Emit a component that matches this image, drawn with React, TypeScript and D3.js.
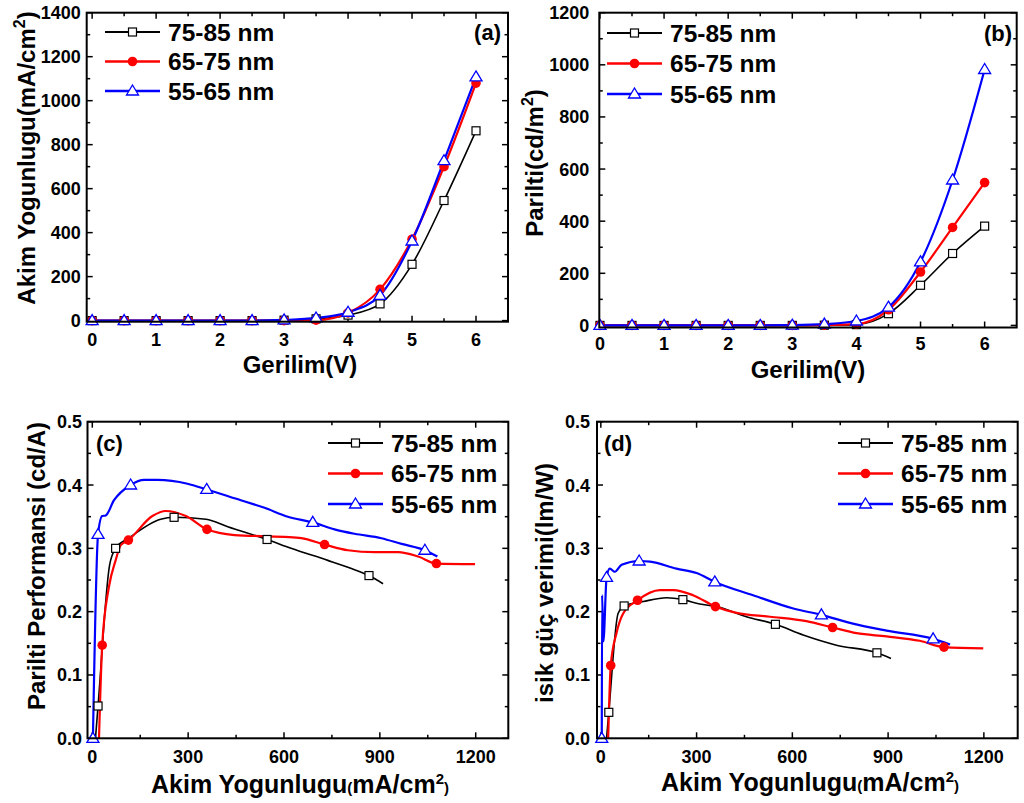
import React from 'react';
import * as d3 from 'd3';

const FONT = '"Liberation Sans", Arial, Helvetica, sans-serif';

// ---------- DATA ----------
const seriesNames = ['75-85 nm', '65-75 nm', '55-65 nm'];
const seriesColors = ['#000000', '#ff0000', '#0000ff'];

const voltages = [0, 0.5, 1, 1.5, 2, 2.5, 3, 3.5, 4, 4.5, 5, 5.5, 6];

// (a) current density vs voltage
const aBlack = [0, 0, 0, 0, 0, 0, 2, 8, 25, 76, 256, 546, 863];
const aRed = [0, 0, 0, 0, 0, 0, 0, 2, 35, 142, 370, 700, 1080];
const aBlue = [0, 0, 0, 0, 0, 0, 3, 12, 38, 115, 362, 727, 1108];

// (b) luminance vs voltage
const bBlack = [0, 0, 0, 0, 0, 0, 0, 1, 3, 45, 154, 276, 381];
const bRed = [0, 0, 0, 0, 0, 0, 0, 1, 5, 60, 205, 376, 548];
const bBlue = [0, 0, 0, 0, 0, 0, 1, 5, 17, 70, 244, 558, 982];

// (c) current efficiency vs current density
const cBlackJ = [10, 18, 54, 73, 114, 214, 256, 356, 424, 547, 622, 737, 811, 866, 910];
const cBlackE = [0, 0.051, 0.273, 0.3, 0.316, 0.346, 0.349, 0.346, 0.334, 0.314, 0.3, 0.281, 0.268, 0.257, 0.244];
const cBlackMarks = [1, 3, 6, 9, 13];

const cRedJ = [21, 31, 52, 73, 89, 113, 188, 230, 293, 359, 445, 601, 654, 727, 800, 884, 957, 1020, 1077, 1198];
const cRedE = [0, 0.147, 0.239, 0.281, 0.305, 0.313, 0.351, 0.359, 0.351, 0.33, 0.321, 0.318, 0.316, 0.306, 0.297, 0.294, 0.294, 0.287, 0.276, 0.275];
const cRedMarks = [1, 5, 9, 13, 18];

const cBlueJ = [2, 18, 31, 42, 68, 120, 162, 204, 298, 358, 445, 539, 612, 690, 758, 821, 905, 968, 1041, 1080];
const cBlueE = [0, 0.322, 0.351, 0.352, 0.376, 0.4, 0.408, 0.408, 0.402, 0.393, 0.379, 0.364, 0.35, 0.341, 0.33, 0.323, 0.316, 0.307, 0.297, 0.287];
const cBlueMarks = [0, 1, 5, 9, 13, 18];

// (d) power efficiency vs current density
const dBlackJ = [18, 25, 54, 73, 133, 206, 257, 310, 362, 456, 547, 634, 738, 865, 909];
const dBlackP = [0, 0.041, 0.197, 0.209, 0.216, 0.222, 0.219, 0.212, 0.208, 0.192, 0.18, 0.163, 0.147, 0.135, 0.126];
const dBlackMarks = [1, 3, 6, 10, 13];

const dRedJ = [23, 31, 49, 70, 115, 185, 227, 289, 359, 425, 530, 644, 726, 801, 895, 999, 1075, 1198];
const dRedP = [0, 0.115, 0.166, 0.197, 0.218, 0.234, 0.234, 0.226, 0.208, 0.198, 0.192, 0.185, 0.175, 0.166, 0.161, 0.154, 0.144, 0.142];
const dRedMarks = [1, 4, 8, 12, 16];

const dBlueJ = [3, 4, 8, 18, 28, 44, 65, 120, 154, 237, 300, 357, 477, 603, 691, 790, 895, 1041, 1094];
const dBlueP = [0, 0.226, 0.153, 0.254, 0.268, 0.263, 0.274, 0.28, 0.279, 0.268, 0.261, 0.247, 0.226, 0.205, 0.195, 0.181, 0.17, 0.157, 0.148];
const dBlueMarks = [0, 3, 7, 11, 14, 17];

const vTicks = [0, 1, 2, 3, 4, 5, 6];
const vMinor = [0.5, 1.5, 2.5, 3.5, 4.5, 5.5];
const aTicks = [0, 200, 400, 600, 800, 1000, 1200, 1400];
const aMinor = [100, 300, 500, 700, 900, 1100, 1300];
const bTicks = [0, 200, 400, 600, 800, 1000, 1200];
const bMinor = [100, 300, 500, 700, 900, 1100];
const jTicks = [0, 300, 600, 900, 1200];
const jMinor = [150, 450, 750, 1050];
const effTicks = [0, 0.1, 0.2, 0.3, 0.4, 0.5];
const effMinor = [0.05, 0.15, 0.25, 0.35, 0.45];

type Series = { xs: number[]; ys: number[]; marks: number[] };

const zip = (xs: number[], ys: number[]) => xs.map((x, i) => [x, ys[i]] as [number, number]);

function Marker({ kind, x, y }: { kind: number; x: number; y: number }) {
  if (kind === 0)
    return <rect x={x - 4} y={y - 4} width={8} height={8} fill="#fff" stroke="#000" strokeWidth={1.2} />;
  if (kind === 1) return <circle cx={x} cy={y} r={4.8} fill="#ff0000" />;
  return (
    <path
      d={`M${x},${y - 6}L${x + 6},${y + 4}L${x - 6},${y + 4}Z`}
      fill="#fff"
      stroke="#0000ff"
      strokeWidth={1.3}
    />
  );
}

type PanelProps = {
  frame: { l: number; r: number; t: number; b: number };
  xDomain: [number, number];
  yDomain: [number, number];
  xMajor: number[];
  xMinor: number[];
  yMajor: number[];
  yMinor: number[];
  yFmt: (v: number) => string;
  series: Series[];
  yLabelGap: number;
  xLabelGap: number;
  legend: { x: number; y0: number; dy: number };
  tag: string;
  tagPos: [number, number];
  tagAnchor: string;
  xTitle: React.ReactNode;
  xTitlePos: [number, number];
  xTitleSize: number;
  yTitle: React.ReactNode;
  yTitlePos: [number, number];
};

function Panel(p: PanelProps) {
  const { frame } = p;
  const x = d3.scaleLinear().domain(p.xDomain).range([frame.l, frame.r]);
  const y = d3.scaleLinear().domain(p.yDomain).range([frame.b, frame.t]);
  const line = d3
    .line<[number, number]>()
    .x((d) => x(d[0]))
    .y((d) => y(d[1]))
    .curve(d3.curveMonotoneX);
  const widths = [1.6, 2.2, 2.2];
  const MAJ = 6;
  const MIN = 3.5;
  return (
    <g>
      {/* ticks */}
      {p.xMajor.map((v) => (
        <g key={'xm' + v}>
          <line x1={x(v)} x2={x(v)} y1={frame.b} y2={frame.b - MAJ} stroke="#000" strokeWidth={1.5} />
          <line x1={x(v)} x2={x(v)} y1={frame.t} y2={frame.t + MAJ} stroke="#000" strokeWidth={1.5} />
          <text
            x={x(v)}
            y={frame.b + p.xLabelGap}
            textAnchor="middle"
            fontFamily={FONT}
            fontWeight="bold"
            fontSize={18}
          >
            {v}
          </text>
        </g>
      ))}
      {p.xMinor.map((v) => (
        <g key={'xn' + v}>
          <line x1={x(v)} x2={x(v)} y1={frame.b} y2={frame.b - MIN} stroke="#000" strokeWidth={1.5} />
          <line x1={x(v)} x2={x(v)} y1={frame.t} y2={frame.t + MIN} stroke="#000" strokeWidth={1.5} />
        </g>
      ))}
      {p.yMajor.map((v) => (
        <g key={'ym' + v}>
          <line x1={frame.l} x2={frame.l + MAJ} y1={y(v)} y2={y(v)} stroke="#000" strokeWidth={1.5} />
          <line x1={frame.r} x2={frame.r - MAJ} y1={y(v)} y2={y(v)} stroke="#000" strokeWidth={1.5} />
          <text
            x={frame.l - p.yLabelGap}
            y={y(v) + 6.5}
            textAnchor="end"
            fontFamily={FONT}
            fontWeight="bold"
            fontSize={18}
          >
            {p.yFmt(v)}
          </text>
        </g>
      ))}
      {p.yMinor.map((v) => (
        <g key={'yn' + v}>
          <line x1={frame.l} x2={frame.l + MIN} y1={y(v)} y2={y(v)} stroke="#000" strokeWidth={1.5} />
          <line x1={frame.r} x2={frame.r - MIN} y1={y(v)} y2={y(v)} stroke="#000" strokeWidth={1.5} />
        </g>
      ))}
      {/* series */}
      {p.series.map((s, i) => (
        <path
          key={'l' + i}
          d={line(zip(s.xs, s.ys)) || ''}
          fill="none"
          stroke={seriesColors[i]}
          strokeWidth={widths[i]}
          strokeLinejoin="round"
        />
      ))}
      {p.series.map((s, i) => (
        <g key={'m' + i}>
          {s.marks.map((k) => (
            <Marker key={k} kind={i} x={x(s.xs[k])} y={y(s.ys[k])} />
          ))}
        </g>
      ))}
      {/* frame */}
      <rect
        x={frame.l}
        y={frame.t}
        width={frame.r - frame.l}
        height={frame.b - frame.t}
        fill="none"
        stroke="#000"
        strokeWidth={2}
      />
      {/* legend */}
      {seriesNames.map((n, i) => {
        const ly = p.legend.y0 + i * p.legend.dy;
        return (
          <g key={'lg' + i}>
            <line
              x1={p.legend.x}
              x2={p.legend.x + 55}
              y1={ly}
              y2={ly}
              stroke={seriesColors[i]}
              strokeWidth={widths[i] + 0.4}
            />
            <Marker kind={i} x={p.legend.x + 27.5} y={ly} />
            <text
              x={p.legend.x + 63}
              y={ly + 8.5}
              fontFamily={FONT}
              fontWeight="bold"
              fontSize={24.5}
            >
              {n}
            </text>
          </g>
        );
      })}
      <text
        x={p.tagPos[0]}
        y={p.tagPos[1]}
        textAnchor={p.tagAnchor as any}
        fontFamily={FONT}
        fontWeight="bold"
        fontSize={22}
      >
        {p.tag}
      </text>
      <text
        x={p.xTitlePos[0]}
        y={p.xTitlePos[1]}
        textAnchor="middle"
        fontFamily={FONT}
        fontWeight="bold"
        fontSize={p.xTitleSize}
      >
        {p.xTitle}
      </text>
      <text
        transform={`translate(${p.yTitlePos[0]},${p.yTitlePos[1]}) rotate(-90)`}
        textAnchor="middle"
        fontFamily={FONT}
        fontWeight="bold"
        fontSize={24}
      >
        {p.yTitle}
      </text>
    </g>
  );
}

const intFmt = (v: number) => String(v);
const effFmt = d3.format('.1f');

const jTitle = (
  <>
    <tspan>Akim Yogunlugu</tspan>
    <tspan fontSize={15}>(</tspan>
    <tspan>mA/cm</tspan>
    <tspan fontSize={15} dy={-9}>2</tspan>
    <tspan fontSize={15} dy={9}>)</tspan>
  </>
);

export default function App() {
  return (
    <svg
      width={1024}
      height={803}
      style={{ position: 'absolute', left: 0, top: 0, background: '#fff' }}
    >
      <rect width={1024} height={803} fill="#fff" />
      <Panel
        frame={{ l: 86.7, r: 508, t: 12.7, b: 321.7 }}
        xDomain={[-0.085, 6.5]}
        yDomain={[-5, 1400]}
        xMajor={vTicks}
        xMinor={vMinor}
        yMajor={aTicks}
        yMinor={aMinor}
        yFmt={intFmt}
        series={[
          { xs: voltages, ys: aBlack, marks: voltages.map((_, i) => i) },
          { xs: voltages, ys: aRed, marks: voltages.map((_, i) => i) },
          { xs: voltages, ys: aBlue, marks: voltages.map((_, i) => i) },
        ]}
        yLabelGap={6}
        xLabelGap={24}
        legend={{ x: 105, y0: 32, dy: 29.5 }}
        tag="(a)"
        tagPos={[501, 40]}
        tagAnchor="end"
        xTitle="Gerilim(V)"
        xTitlePos={[300, 373]}
        xTitleSize={24}
        yTitle={
          <>
            <tspan>Akim Yogunlugu(mA/cm</tspan>
            <tspan fontSize={16} dy={-10}>2</tspan>
            <tspan dy={10}>)</tspan>
          </>
        }
        yTitlePos={[35, 158]}
      />
      <Panel
        frame={{ l: 599.3, r: 1016.7, t: 12.7, b: 327.5 }}
        xDomain={[-0.01, 6.5]}
        yDomain={[-8, 1200]}
        xMajor={vTicks}
        xMinor={vMinor}
        yMajor={bTicks}
        yMinor={bMinor}
        yFmt={intFmt}
        series={[
          { xs: voltages, ys: bBlack, marks: voltages.map((_, i) => i) },
          { xs: voltages, ys: bRed, marks: voltages.map((_, i) => i) },
          { xs: voltages, ys: bBlue, marks: voltages.map((_, i) => i) },
        ]}
        yLabelGap={10}
        xLabelGap={22}
        legend={{ x: 607, y0: 33, dy: 30.5 }}
        tag="(b)"
        tagPos={[1012, 41]}
        tagAnchor="end"
        xTitle="Gerilim(V)"
        xTitlePos={[808, 378]}
        xTitleSize={24}
        yTitle={
          <>
            <tspan>Parilti(cd/m</tspan>
            <tspan fontSize={16} dy={-10}>2</tspan>
            <tspan dy={10}>)</tspan>
          </>
        }
        yTitlePos={[543, 163]}
      />
      <Panel
        frame={{ l: 87.5, r: 508.3, t: 421.7, b: 738.3 }}
        xDomain={[-15, 1302]}
        yDomain={[0, 0.5]}
        xMajor={jTicks}
        xMinor={jMinor}
        yMajor={effTicks}
        yMinor={effMinor}
        yFmt={effFmt}
        series={[
          { xs: cBlackJ, ys: cBlackE, marks: cBlackMarks },
          { xs: cRedJ, ys: cRedE, marks: cRedMarks },
          { xs: cBlueJ, ys: cBlueE, marks: cBlueMarks },
        ]}
        yLabelGap={5.5}
        xLabelGap={25}
        legend={{ x: 328, y0: 443, dy: 30.5 }}
        tag="(c)"
        tagPos={[96, 451]}
        tagAnchor="start"
        xTitle={jTitle}
        xTitlePos={[300, 793]}
        xTitleSize={25}
        yTitle="Parilti Performansi (cd/A)"
        yTitlePos={[45, 566]}
      />
      <Panel
        frame={{ l: 597, r: 1017.7, t: 421.7, b: 738.3 }}
        xDomain={[-12, 1306]}
        yDomain={[0, 0.5]}
        xMajor={jTicks}
        xMinor={jMinor}
        yMajor={effTicks}
        yMinor={effMinor}
        yFmt={effFmt}
        series={[
          { xs: dBlackJ, ys: dBlackP, marks: dBlackMarks },
          { xs: dRedJ, ys: dRedP, marks: dRedMarks },
          { xs: dBlueJ, ys: dBlueP, marks: dBlueMarks },
        ]}
        yLabelGap={7}
        xLabelGap={25}
        legend={{ x: 838, y0: 443, dy: 30.5 }}
        tag="(d)"
        tagPos={[604, 451]}
        tagAnchor="start"
        xTitle={jTitle}
        xTitlePos={[810, 791]}
        xTitleSize={25}
        yTitle="isik güç verimi(lm/W)"
        yTitlePos={[553, 583]}
      />
    </svg>
  );
}
